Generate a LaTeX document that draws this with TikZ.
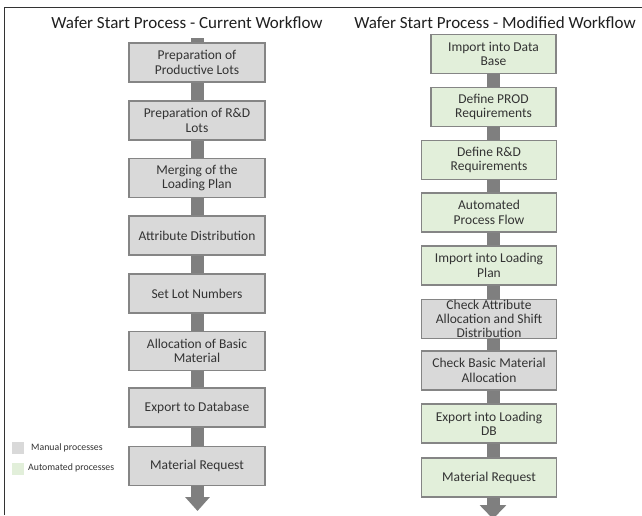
\documentclass[tikz,border=0pt]{standalone}
\usepackage{fontspec}
\setmainfont{Carlito}
\usetikzlibrary{arrows.meta,backgrounds}
\definecolor{manual}{HTML}{D9D9D9}
\definecolor{autoc}{HTML}{E2EFDA}
\definecolor{edgec}{HTML}{858585}
\definecolor{spinec}{HTML}{7F7F7F}
\definecolor{txt}{HTML}{333333}
\definecolor{framec}{HTML}{333333}
\begin{document}
\begin{tikzpicture}[x=1pt,y=-1pt,
  box/.style={draw=edgec,line width=1.4pt,minimum height=39pt,inner xsep=2pt,inner ysep=0pt,
    align=center,text=txt,font=\fontsize{13.5}{14.3}\selectfont},
  man/.style={box,fill=manual},
  aut/.style={box,fill=autoc},
  lw/.style={minimum width=136pt},
  rn/.style={minimum width=125pt},
  rw/.style={minimum width=135pt},
  spine/.style={draw=spinec,line width=13pt},
  title/.style={font=\fontsize{17}{20}\selectfont,text=black!88,inner sep=0pt},
  legbox/.style={minimum width=12pt,minimum height=12pt,inner sep=0pt},
  legtxt/.style={anchor=west,inner sep=0pt,font=\fontsize{9.8}{12}\selectfont,text=txt}]
\useasboundingbox (0,0) rectangle (642,515);
% titles
\node[title] (tl) at (187,23) {Wafer Start Process - Current Workflow};
\node[title] (tr) at (495,23) {Wafer Start Process - Modified Workflow};
% left column
\node[man,lw] (L1) at (197,62.5) {Preparation of\\Productive Lots};
\node[man,lw] (L2) at (197,120.5) {Preparation of R\&D\\Lots};
\node[man,lw] (L3) at (197,178) {Merging of the\\Loading Plan};
\node[man,lw] (L4) at (197,235.5) {Attribute Distribution};
\node[man,lw] (L5) at (197,293.5) {Set Lot Numbers};
\node[man,lw] (L6) at (197,351) {Allocation of Basic\\Material};
\node[man,lw] (L7) at (197,407.5) {Export to Database};
\node[man,lw] (L8) at (197,466) {Material Request};
% right column
\node[aut,rn] (R1) at (493.5,54) {Import into Data\\Base};
\node[aut,rn] (R2) at (493.5,107) {Define PROD\\Requirements};
\node[aut,rw] (R3) at (489,160) {Define R\&D\\Requirements};
\node[aut,rw] (R4) at (489,212.5) {Automated\\Process Flow};
\node[aut,rw] (R5) at (489,265.5) {Import into Loading\\Plan};
\node[man,rw] (R6) at (489,319) {Check Attribute\\Allocation and Shift\\Distribution};
\node[man,rw] (R7) at (489,370.5) {Check Basic Material\\Allocation};
\node[aut,rw] (R8) at (489,423.5) {Export into Loading\\DB};
\node[aut,rw] (R9) at (489,477.5) {Material Request};
% legend
\node[legbox,fill=manual] (lm) at (18,447.5) {};
\node[legtxt] (lmt) at (31,448) {Manual processes};
\node[legbox,fill=autoc] (la) at (18,468.5) {};
\node[legtxt] (lat) at (28,468) {Automated processes};
% coordinates
\coordinate (Lx) at (197.5,0);
\coordinate (Rx) at (493,0);
\coordinate (Ltop) at (197.5,38);
\coordinate (Lend) at (197.5,511);
\coordinate (Rend) at (493,519);
\begin{scope}[on background layer]
\fill[white] (0,0) rectangle (642,515);
\draw[spine] (Ltop) -- (L1 -| Lx);
\draw[spine] (L1 -| Lx) -- (L2 -| Lx);
\draw[spine] (L2 -| Lx) -- (L3 -| Lx);
\draw[spine] (L3 -| Lx) -- (L4 -| Lx);
\draw[spine] (L4 -| Lx) -- (L5 -| Lx);
\draw[spine] (L5 -| Lx) -- (L6 -| Lx);
\draw[spine] (L6 -| Lx) -- (L7 -| Lx);
\draw[spine] (L7 -| Lx) -- (L8 -| Lx);
\draw[spine,-{Triangle[width=24pt,length=14pt]}] (L8 -| Lx) -- (Lend);
\draw[spine] (R1 -| Rx) -- (R2 -| Rx);
\draw[spine] (R2 -| Rx) -- (R3 -| Rx);
\draw[spine] (R3 -| Rx) -- (R4 -| Rx);
\draw[spine] (R4 -| Rx) -- (R5 -| Rx);
\draw[spine] (R5 -| Rx) -- (R6 -| Rx);
\draw[spine] (R6 -| Rx) -- (R7 -| Rx);
\draw[spine] (R7 -| Rx) -- (R8 -| Rx);
\draw[spine] (R8 -| Rx) -- (R9 -| Rx);
\draw[spine,-{Triangle[width=26pt,length=14pt]}] (R9 -| Rx) -- (Rend);
\end{scope}
% frame
\draw[draw=framec,line width=1.5pt] (4.5,515) -- (4.5,7.5) -- (642,7.5);
\end{tikzpicture}
\end{document}
